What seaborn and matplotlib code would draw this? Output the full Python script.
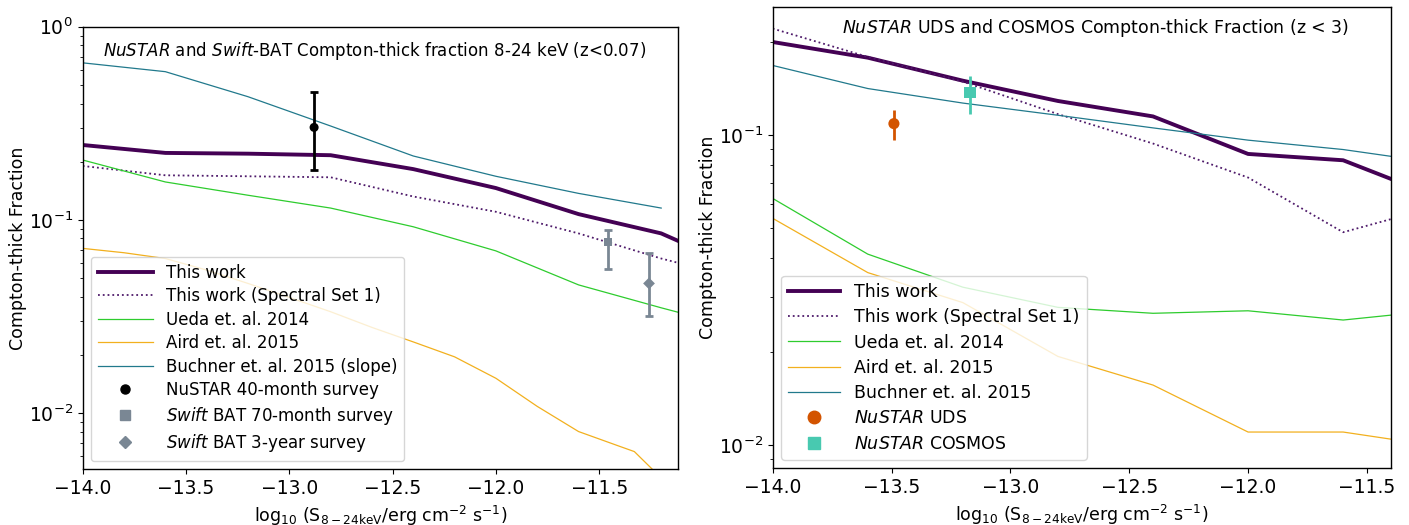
import matplotlib
matplotlib.use("Agg")
import matplotlib.pyplot as plt
import seaborn as sns
from matplotlib.lines import Line2D

# ---------------- data: local survey (z < 0.07) ----------------
flux_grid_local = [-14.0, -13.6, -13.2, -12.8, -12.4, -12.0, -11.6, -11.2, -10.8]
this_work_local = [0.244, 0.222, 0.220, 0.216, 0.183, 0.146, 0.107, 0.085, 0.055]
set1_local = [0.190, 0.170, 0.168, 0.166, 0.132, 0.110, 0.085, 0.063, 0.049]
ueda_local = [0.204, 0.157, 0.134, 0.115, 0.092, 0.069, 0.046, 0.035, 0.027]

buchner_flux_local = [-14.0, -13.6, -13.2, -12.8, -12.4, -12.0, -11.6, -11.2]
buchner_local = [0.650, 0.585, 0.434, 0.306, 0.214, 0.168, 0.137, 0.115]

aird_flux_local = [-14.0, -13.8, -13.6, -13.4, -13.2, -13.0, -12.8, -12.6, -12.4,
                   -12.2, -12.0, -11.8, -11.6, -11.4, -11.33, -11.2]
aird_local = [0.0711, 0.0675, 0.0630, 0.0549, 0.0468, 0.0396, 0.0334, 0.0277, 0.0233,
              0.0195, 0.0151, 0.0108, 0.0080, 0.0067, 0.0063, 0.0046]

nustar40_flux, nustar40_frac, nustar40_lo, nustar40_hi = -12.88, 0.301, 0.182, 0.460
bat70_flux, bat70_frac, bat70_lo, bat70_hi = -11.457, 0.0769, 0.0553, 0.089
bat3_flux, bat3_frac, bat3_lo, bat3_hi = -11.259, 0.0468, 0.0317, 0.067

# ---------------- data: deep fields (z < 3) ----------------
flux_grid_deep = [-14.0, -13.6, -13.2, -12.8, -12.4, -12.0, -11.6, -11.2]
this_work_deep = [0.200, 0.178, 0.150, 0.129, 0.115, 0.087, 0.083, 0.063]
set1_deep = [0.221, 0.179, 0.149, 0.117, 0.094, 0.073, 0.0486, 0.059]
ueda_deep = [0.0625, 0.0413, 0.0323, 0.0278, 0.0266, 0.0271, 0.0253, 0.0272]
aird_deep = [0.0539, 0.0360, 0.0288, 0.0193, 0.0156, 0.0110, 0.0110, 0.0099]
buchner_deep = [0.168, 0.1415, 0.127, 0.116, 0.1056, 0.0964, 0.0899, 0.0813]

uds_flux, uds_frac, uds_lo, uds_hi = -13.49, 0.109, 0.0964, 0.121
cosmos_flux, cosmos_frac, cosmos_lo, cosmos_hi = -13.17, 0.137, 0.1175, 0.155

# ---------------- styling ----------------
C_WORK = "#440154"
C_SET1 = "#4e1a6a"
C_UEDA = "#2ecc2e"
C_AIRD = "#f2b01e"
C_BUCH = "#21798c"
C_GREY = "#7a8794"
C_UDS = "#d35400"
C_COSMOS = "#48c9b0"

FS_TICK = 13.5
FS_LABEL = 12.5
FS_LEFT = 12.0
FS_RIGHT = 12.5
plt.rcParams.update({
    "font.family": ["DejaVu Sans"],
    "font.size": FS_LEFT,
    "axes.linewidth": 1.0,
    "xtick.labelsize": FS_TICK,
    "ytick.labelsize": FS_TICK,
    "axes.labelsize": FS_LABEL,
    "mathtext.fontset": "dejavusans",
})

XLABEL = r"log$_{10}$ (S$_{8-24\mathrm{keV}}$/erg cm$^{-2}$ s$^{-1}$)"
YLABEL = "Compton-thick Fraction"

fig = plt.figure(figsize=(14.09, 5.25), dpi=100)
ax1 = fig.add_axes([0.0587, 0.1061, 0.4223, 0.8430])
ax2 = fig.add_axes([0.5484, 0.1080, 0.4386, 0.8792])


def draw_line(ax, x, y, color, lw, ls="-"):
    sns.lineplot(x=x, y=y, ax=ax, color=color, lw=lw, linestyle=ls,
                 sort=False, estimator=None)


def draw_point(ax, x, y, lo, hi, color, marker, ms, capsize, elw):
    ax.errorbar([x], [y], yerr=[[y - lo], [hi - y]], fmt="none",
                ecolor=color, elinewidth=elw, capsize=capsize, capthick=elw, zorder=4)
    sns.scatterplot(x=[x], y=[y], ax=ax, color=color, marker=marker,
                    s=ms ** 2, edgecolor="none", zorder=5)


def line_handle(color, lw, ls="-"):
    return Line2D([], [], color=color, lw=lw, ls=ls)


def marker_handle(color, marker, ms):
    return Line2D([], [], color=color, marker=marker, ls="none", ms=ms)


# ---------------- left panel ----------------
draw_line(ax1, flux_grid_local, this_work_local, C_WORK, 2.8)
draw_line(ax1, flux_grid_local, set1_local, C_SET1, 1.3, ":")
draw_line(ax1, flux_grid_local, ueda_local, C_UEDA, 0.9)
draw_line(ax1, aird_flux_local, aird_local, C_AIRD, 0.9)
draw_line(ax1, buchner_flux_local, buchner_local, C_BUCH, 0.9)
draw_point(ax1, nustar40_flux, nustar40_frac, nustar40_lo, nustar40_hi, "black", "o", 6.5, 3, 2.0)
draw_point(ax1, bat70_flux, bat70_frac, bat70_lo, bat70_hi, C_GREY, "s", 6.0, 3, 2.0)
draw_point(ax1, bat3_flux, bat3_frac, bat3_lo, bat3_hi, C_GREY, "D", 6.0, 3, 2.0)

ax1.set_yscale("log")
ax1.set_xlim(-14.0, -11.12)
ax1.set_ylim(0.0051, 1.0)
ax1.set_xticks([-14.0, -13.5, -13.0, -12.5, -12.0, -11.5])
ax1.set_xlabel(XLABEL)
ax1.set_ylabel(YLABEL, labelpad=1)
ax1.text(0.491, 0.946,
         r"$\it{NuSTAR}$ and $\it{Swift}$-BAT Compton-thick fraction 8-24 keV (z<0.07)",
         transform=ax1.transAxes, ha="center", va="center", fontsize=FS_LEFT)

handles1 = [
    line_handle(C_WORK, 2.8),
    line_handle(C_SET1, 1.3, ":"),
    line_handle(C_UEDA, 0.9),
    line_handle(C_AIRD, 0.9),
    line_handle(C_BUCH, 0.9),
    marker_handle("black", "o", 6.5),
    marker_handle(C_GREY, "s", 6.5),
    marker_handle(C_GREY, "D", 6.5),
]
labels1 = [
    "This work",
    "This work (Spectral Set 1)",
    "Ueda et. al. 2014",
    "Aird et. al. 2015",
    "Buchner et. al. 2015 (slope)",
    "NuSTAR 40-month survey",
    r"$\it{Swift}$ BAT 70-month survey",
    r"$\it{Swift}$ BAT 3-year survey",
]
ax1.legend(handles1, labels1, loc="lower left", fontsize=FS_LEFT, handlelength=3.3,
           labelspacing=0.33, numpoints=1)

# ---------------- right panel ----------------
draw_line(ax2, flux_grid_deep, this_work_deep, C_WORK, 2.8)
draw_line(ax2, flux_grid_deep, set1_deep, C_SET1, 1.3, ":")
draw_line(ax2, flux_grid_deep, ueda_deep, C_UEDA, 0.9)
draw_line(ax2, flux_grid_deep, aird_deep, C_AIRD, 0.9)
draw_line(ax2, flux_grid_deep, buchner_deep, C_BUCH, 0.9)
draw_point(ax2, uds_flux, uds_frac, uds_lo, uds_hi, C_UDS, "o", 8.0, 0, 2.0)
draw_point(ax2, cosmos_flux, cosmos_frac, cosmos_lo, cosmos_hi, C_COSMOS, "s", 8.0, 0, 2.0)

ax2.set_yscale("log")
ax2.set_xlim(-14.0, -11.4)
ax2.set_ylim(0.0084, 0.26)
ax2.set_xticks([-14.0, -13.5, -13.0, -12.5, -12.0, -11.5])
ax2.set_xlabel(XLABEL)
ax2.set_ylabel(YLABEL, labelpad=1)
ax2.text(0.523, 0.954,
         r"$\it{NuSTAR}$ UDS and COSMOS Compton-thick Fraction (z < 3)",
         transform=ax2.transAxes, ha="center", va="center", fontsize=FS_RIGHT)

handles2 = [
    line_handle(C_WORK, 2.8),
    line_handle(C_SET1, 1.3, ":"),
    line_handle(C_UEDA, 0.9),
    line_handle(C_AIRD, 0.9),
    line_handle(C_BUCH, 0.9),
    marker_handle(C_UDS, "o", 9.0),
    marker_handle(C_COSMOS, "s", 9.0),
]
labels2 = [
    "This work",
    "This work (Spectral Set 1)",
    "Ueda et. al. 2014",
    "Aird et. al. 2015",
    "Buchner et. al. 2015",
    r"$\it{NuSTAR}$ UDS",
    r"$\it{NuSTAR}$ COSMOS",
]
ax2.legend(handles2, labels2, loc="lower left", fontsize=FS_RIGHT, handlelength=3.0,
           labelspacing=0.42, numpoints=1)

fig.savefig("out.png", dpi=100)
